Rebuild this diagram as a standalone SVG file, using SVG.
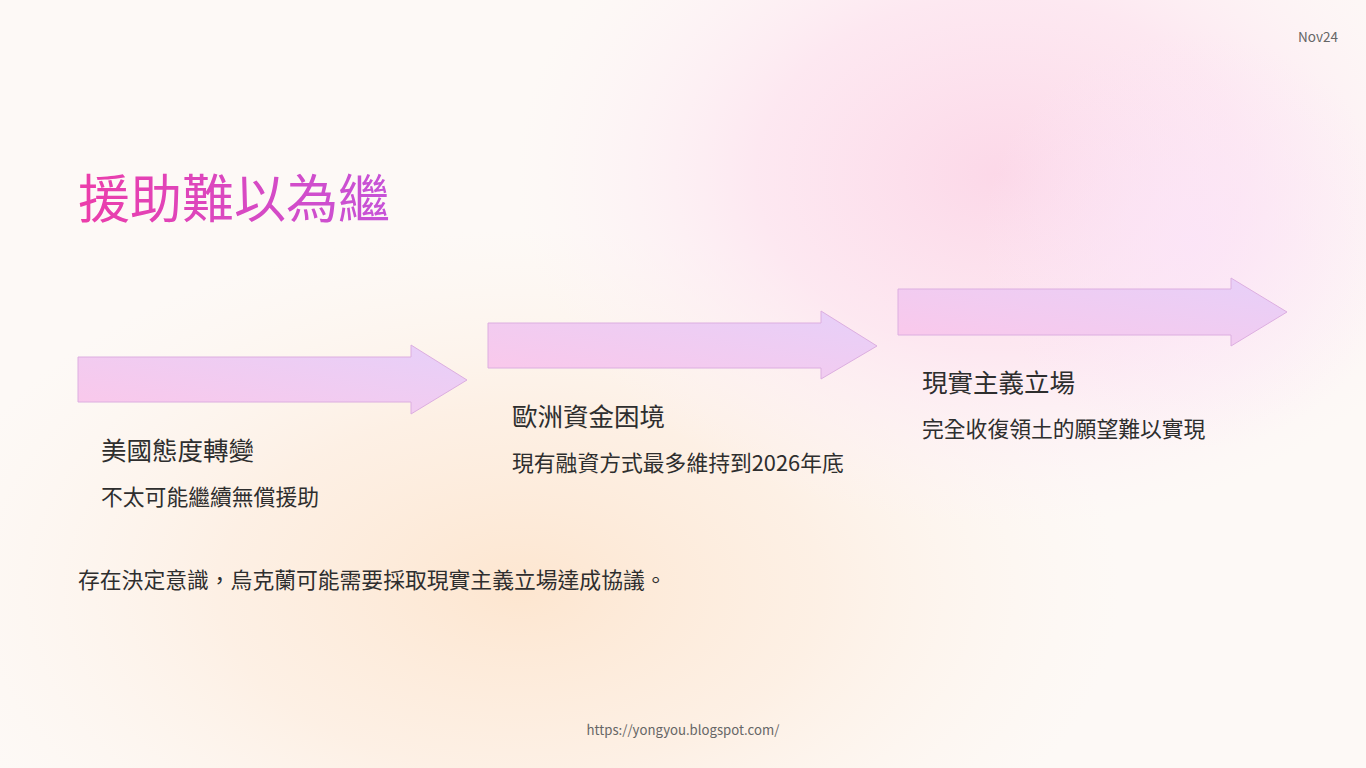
<svg xmlns="http://www.w3.org/2000/svg" width="1366" height="768" viewBox="0 0 1366 768">
<defs>
<radialGradient id="pinkBlob" cx="1000" cy="175" r="440" gradientUnits="userSpaceOnUse" gradientTransform="translate(1000 175) scale(1.1 0.8) translate(-1000 -175)">
<stop offset="0" stop-color="#fcd8e8" stop-opacity="1"/>
<stop offset="0.5" stop-color="#fde2ef" stop-opacity="0.75"/>
<stop offset="1" stop-color="#fdf0f7" stop-opacity="0"/>
</radialGradient>
<radialGradient id="peachBlob" cx="520" cy="590" r="500" gradientUnits="userSpaceOnUse" gradientTransform="translate(520 590) scale(1.2 0.72) translate(-520 -590)">
<stop offset="0" stop-color="#fde6d0" stop-opacity="1"/>
<stop offset="0.5" stop-color="#fdecdd" stop-opacity="0.7"/>
<stop offset="1" stop-color="#fdf3ea" stop-opacity="0"/>
</radialGradient>
<radialGradient id="lavBlob" cx="1190" cy="240" r="210" gradientUnits="userSpaceOnUse">
<stop offset="0" stop-color="#fbe4f8" stop-opacity="0.8"/>
<stop offset="1" stop-color="#fbe6f8" stop-opacity="0"/>
</radialGradient>
<linearGradient id="titleGrad" x1="78" y1="0" x2="390" y2="0" gradientUnits="userSpaceOnUse">
<stop offset="0" stop-color="#ec3daa"/>
<stop offset="1" stop-color="#c653d8"/>
</linearGradient>
<linearGradient id="arrowGrad" x1="0" y1="1" x2="1" y2="0">
<stop offset="0" stop-color="#fbc8ea"/>
<stop offset="1" stop-color="#e6d0f9"/>
</linearGradient>
<style>
.arrow{fill:url(#arrowGrad);stroke:#dcaee0;stroke-width:1}
.head{font-family:"Noto Sans CJK TC","Noto Sans CJK SC",sans-serif;font-size:25.5px;fill:#2e2e2e}
.sub{font-family:"Noto Sans CJK TC","Noto Sans CJK SC",sans-serif;font-size:21.8px;fill:#2e2e2e}
.note{font-family:"Noto Sans CJK TC","Noto Sans CJK SC",sans-serif;font-size:21.8px;fill:#2e2e2e}
.small{font-family:"Noto Sans CJK TC","Noto Sans",sans-serif;fill:#666666}
</style>
</defs>
<rect x="0" y="0" width="1366" height="768" fill="#fdf9f6"/>
<rect x="0" y="0" width="1366" height="768" fill="url(#peachBlob)"/>
<rect x="0" y="0" width="1366" height="768" fill="url(#pinkBlob)"/>
<rect x="0" y="0" width="1366" height="768" fill="url(#lavBlob)"/>

<text id="date" class="small" x="1338" y="42" font-size="13.5" text-anchor="end">Nov24</text>
<text id="title" x="78" y="218" font-family="'Noto Sans CJK TC','Noto Sans CJK SC',sans-serif" font-size="52" fill="url(#titleGrad)">援助難以為繼</text>

<g id="connectors"></g>

<g id="node1">
<polygon class="arrow" points="78,357 411,357 411,345 467,380 411,414 411,402 78,402"/>
<text class="head" x="101" y="460">美國態度轉變</text>
<text class="sub" x="101" y="505">不太可能繼續無償援助</text>
</g>
<g id="node2">
<polygon class="arrow" points="488,323 821,323 821,311 877,346 821,379 821,368 488,368"/>
<text class="head" x="512" y="426">歐洲資金困境</text>
<text class="sub" x="512" y="471">現有融資方式最多維持到2026年底</text>
</g>
<g id="node3">
<polygon class="arrow" points="898,289 1231,289 1231,278 1287,312 1231,346 1231,335 898,335"/>
<text class="head" x="922" y="392">現實主義立場</text>
<text class="sub" x="922" y="437">完全收復領土的願望難以實現</text>
</g>

<text id="conclusion" class="note" x="78" y="588">存在決定意識，烏克蘭可能需要採取現實主義立場達成協議。</text>
<text id="footer" class="small" x="683" y="735" font-size="13.2" text-anchor="middle">https://yongyou.blogspot.com/</text>
</svg>
